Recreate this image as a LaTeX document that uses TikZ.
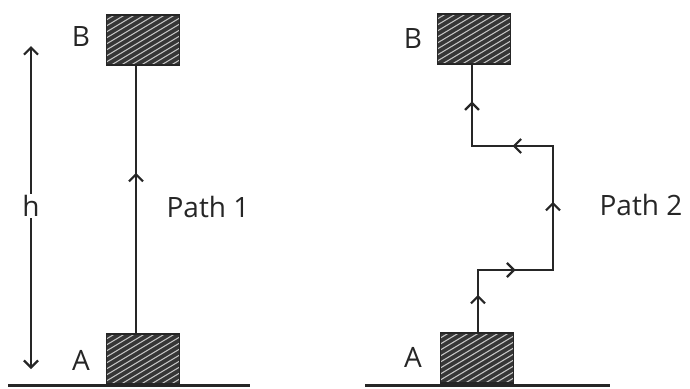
\documentclass[tikz,border=0pt]{standalone}
\usepackage{fontspec}
\setmainfont{Open Sans}
\usetikzlibrary{arrows.meta,decorations.markings}
\definecolor{ink}{HTML}{262626}
\definecolor{blockfill}{HTML}{363636}
\tikzset{
  block/.style={draw=ink, line width=1.8pt, fill=blockfill, minimum width=73pt, minimum height=50pt, inner sep=0pt,
    path picture={\foreach \k in {-10,...,10}{\draw[white!70!blockfill, line width=1.1pt]
      ([xshift=\k*10pt-50pt, yshift=-30pt]path picture bounding box.center) -- ++(100pt,60pt);}}},
  lbl/.style={font=\fontsize{28}{31}\selectfont, text=ink, inner sep=1pt},
  wire/.style={draw=ink, line width=2.6pt, line cap=rect},
  midarrow/.style={postaction={decorate}, decoration={markings, mark=at position #1 with {\arrow[ink]{Straight Barb[length=7pt,width=14pt,line width=2.2pt]}}}},
  ground/.style={draw=ink, line width=3pt}
}
\begin{document}
\begin{tikzpicture}[x=1pt,y=-1pt]
\useasboundingbox (0,0) rectangle (690,388);
% left figure
\coordinate (g1a) at (8,385);
\coordinate (g1b) at (250,385);
\draw[ground] (g1a) -- (g1b);
\node[block] (A1) at (143,359) {};
\node[block] (B1) at (143,40) {};
\node[lbl] (LA1) at (81,360) {A};
\node[lbl] (LB1) at (81,37) {B};
\draw[wire, midarrow=0.6] (A1.north -| 136,0) -- (B1.south -| 136,0);
\node[lbl] (P1) at (208,207) {Path 1};
\coordinate (h1) at (31,46);
\coordinate (h2) at (31,369);
\draw[wire, line cap=butt, {Straight Barb[length=7pt,width=14pt,line width=2.2pt]}-{Straight Barb[length=7pt,width=14pt,line width=2.2pt]}] (h2) -- (h1);
\node[lbl, fill=white, inner sep=1pt] (H) at (31,206) {h};
% right figure
\coordinate (g2a) at (365,385);
\coordinate (g2b) at (610,385);
\draw[ground] (g2a) -- (g2b);
\node[block] (A2) at (477,358) {};
\node[block] (B2) at (474,39) {};
\node[lbl] (LA2) at (413,357) {A};
\node[lbl] (LB2) at (413,39) {B};
\coordinate (c1) at (478,270);
\coordinate (c2) at (553,270);
\coordinate (c3) at (553,146);
\coordinate (c4) at (472,146);
\draw[wire, midarrow=0.6] (A2.north -| c1) -- (c1);
\draw[wire, midarrow=0.5] (c1) -- (c2);
\draw[wire, midarrow=0.55] (c2) -- (c3);
\draw[wire, midarrow=0.5] (c3) -- (c4);
\draw[wire, midarrow=0.55] (c4) -- (B2.south -| c4);
\node[lbl] (P2) at (641,205) {Path 2};
\end{tikzpicture}
\end{document}
